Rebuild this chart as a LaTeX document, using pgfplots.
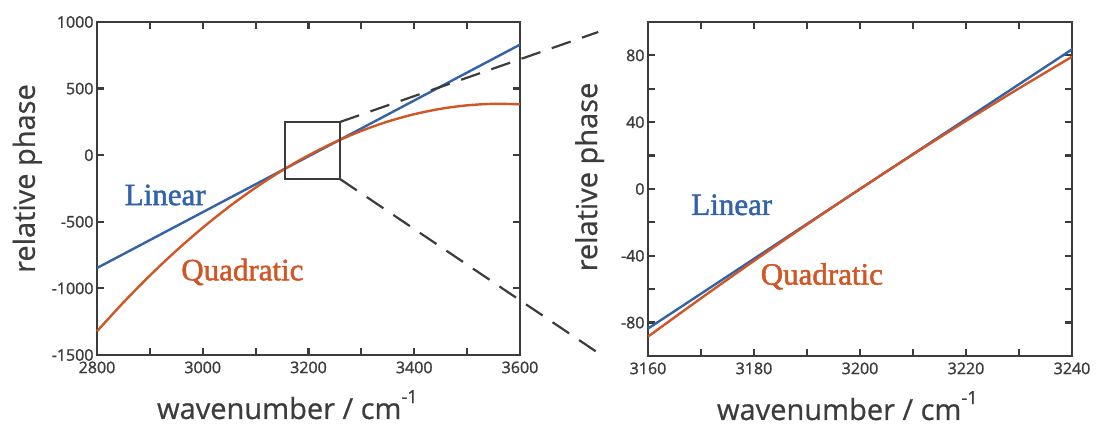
\documentclass[border=0pt]{standalone}
\usepackage{pgfplots}
\pgfplotsset{compat=1.18}
\usepackage{fontspec}
\setmainfont{Open Sans}[FakeBold=0.6]
\newfontfamily\tickfont{Open Sans}[FakeBold=1.4]
\newfontfamily\seriffont{Liberation Serif}[FakeBold=1.6]
\definecolor{lblue}{RGB}{50,98,168}
\definecolor{qorange}{RGB}{208,86,38}
\definecolor{axgray}{RGB}{60,60,60}
\newcommand{\wnlabel}{wavenumber / cm\raisebox{0.55em}{\fontsize{18}{18}\selectfont -1}}
\begin{document}
\begin{tikzpicture}
\path[use as bounding box] (0,0) rectangle (1096pt,425pt);
\pgfplotsset{every axis/.append style={
  scale only axis, anchor=south west, clip=false,
  axis line style={axgray, line width=2.6pt},
  every tick/.style={axgray, line width=2.2pt},
  major tick length=7pt, minor tick length=7pt,
  tick label style={font=\tickfont\fontsize{16}{19}\selectfont, text=axgray},
  xticklabel style={yshift=-3pt},
  label style={font=\fontsize{29}{32}\selectfont, text=axgray},
  /pgf/number format/assume math mode=true,
  /pgf/number format/1000 sep={},
}}
% ---------------- left panel ----------------
\begin{axis}[at={(97pt,70pt)}, width=423pt, height=333pt,
  xmin=2800, xmax=3600, ymin=-1500, ymax=1000,
  xtick={2800,3000,...,3600}, minor xtick={2900,3100,...,3500},
  ytick={-1500,-1000,...,1000},
  xlabel={\wnlabel},
  xlabel style={at={(axis description cs:0.45,0)}, anchor=base, yshift=-64pt},
  ylabel={relative phase},
  ylabel style={at={(axis description cs:-0.147,0.53)}, anchor=base},
]
\addplot[lblue, line width=2.4pt] coordinates {(2800,-847) (3600,830)};
\addplot[qorange, line width=2.4pt, smooth] coordinates {
(2800,-1321.8) (2850,-1105.4) (2900,-903.7) (2950,-716.6) (3000,-544.2)
(3050,-386.4) (3100,-243.3) (3150,-114.8) (3200,-1) (3250,98.2)
(3300,182.7) (3350,252.6) (3400,307.8) (3450,348.4) (3500,374.3)
(3550,385.6) (3600,382.2)};
\draw[axgray, line width=2.2pt] (3155,-180) rectangle (3260,250);
\draw[axgray, line width=2.2pt, dash pattern=on 20pt off 12pt] (3260,250) -- (3748,925);
\draw[axgray, line width=2.2pt, dash pattern=on 20pt off 12pt] (3260,-180) -- (3748,-1485);
\node[lblue, font=\seriffont\fontsize{31}{33}\selectfont] at (2929,-299) {Linear};
\node[qorange, font=\seriffont\fontsize{31}{33}\selectfont] at (3075,-877) {Quadratic};
\end{axis}
% ---------------- right panel ----------------
\begin{axis}[at={(648pt,69pt)}, width=424pt, height=334pt,
  xmin=3160, xmax=3240, ymin=-100, ymax=100,
  xtick={3160,3180,...,3240}, minor xtick={3170,3190,...,3230},
  ytick={-80,-40,...,80}, minor ytick={-100,-60,...,100},
  xlabel={\wnlabel},
  xlabel style={at={(axis description cs:0.47,0)}, anchor=base, yshift=-64pt},
  ylabel={relative phase},
  ylabel style={at={(axis description cs:-0.120,0.536)}, anchor=base},
]
\addplot[lblue, line width=2.4pt] coordinates {(3160,-83.6) (3240,83.6)};
\addplot[qorange, line width=2.4pt, smooth] coordinates {
(3160,-88.4) (3170,-65.44) (3180,-43.05) (3190,-21.24) (3200,0)
(3210,20.66) (3220,40.75) (3230,60.26) (3240,79.2)};
\node[lblue, font=\seriffont\fontsize{31}{33}\selectfont] at (3175.8,-9.5) {Linear};
\node[qorange, font=\seriffont\fontsize{31}{33}\selectfont] at (3192.8,-52.3) {Quadratic};
\end{axis}
\end{tikzpicture}
\end{document}
